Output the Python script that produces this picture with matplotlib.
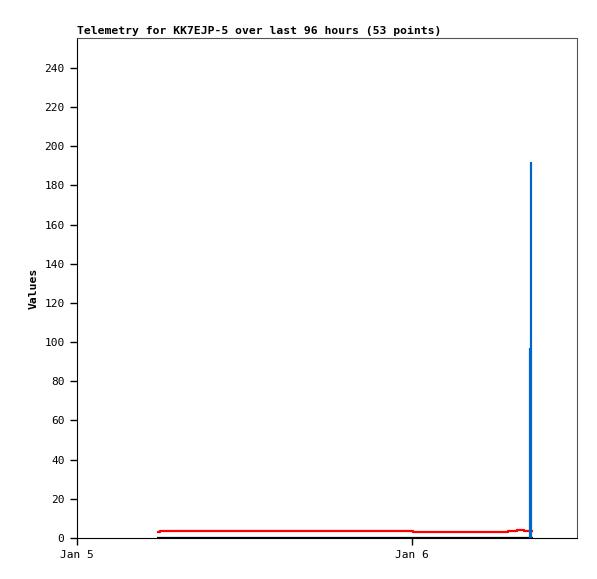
#!/usr/bin/env python3
#
# Telemetry plot for KK7EJP-5 (last 96 hours)
#

import numpy as np
import matplotlib
matplotlib.use('Agg')
import matplotlib.pyplot as plt

# hours since Jan 5 00:00
red_t = [5.73, 5.95, 12.2, 12.25, 24.0, 24.1, 30.85, 30.9, 31.1, 31.4, 31.5, 31.95, 32.0, 32.3, 32.6, 32.68]
red_v = [3.2, 3.8, 3.8, 3.5, 3.5, 3.1, 3.1, 3.8, 3.6, 3.6, 4.2, 4.2, 3.4, 3.6, 3.5, 3.5]
black_t = [5.73, 32.7]
black_v = [0, 0]
blue_t = [32.42, 32.54]
blue_v = [97, 192]

xticks = [0, 24]
xticklabels = ['Jan 5', 'Jan 6']
yticks = np.arange(0, 241, 20)

mono = 'DejaVu Sans Mono'

fig = plt.figure(figsize=(5.97, 5.79), dpi=100)
ax = fig.add_axes([77/597, 41/579, 500/597, 500/579])

ax.plot(black_t, black_v, color='black', linewidth=1.6, solid_capstyle='butt')
ax.plot(red_t, red_v, color='#ff0000', linewidth=1.6, drawstyle='steps-post',
	solid_capstyle='butt')
ax.vlines(blue_t, 0, blue_v, color='#0066cc', linewidth=1.6)

ax.set_xlim(0, 35.82)
ax.set_ylim(0, 255.3)
ax.set_xticks(xticks)
ax.set_xticklabels(xticklabels, family=mono, fontsize=8)
ax.set_yticks(yticks)
ax.set_yticklabels([str(v) for v in yticks], family=mono, fontsize=8)
ax.tick_params(axis='y', direction='out', length=5, width=1, pad=4)
ax.tick_params(axis='x', direction='out', length=5, width=1, pad=4)

for s in ['top', 'right']:
	ax.spines[s].set_color('#555555')
for s in ['left', 'bottom']:
	ax.spines[s].set_color('black')

ax.set_ylabel('Values', family=mono, fontweight='bold', fontsize=8.2, labelpad=4)
ax.set_title('Telemetry for KK7EJP-5 over last 96 hours (53 points)', family=mono,
	fontweight='bold', fontsize=8.2, loc='left', pad=3)

fig.savefig('out.png', dpi=100)
